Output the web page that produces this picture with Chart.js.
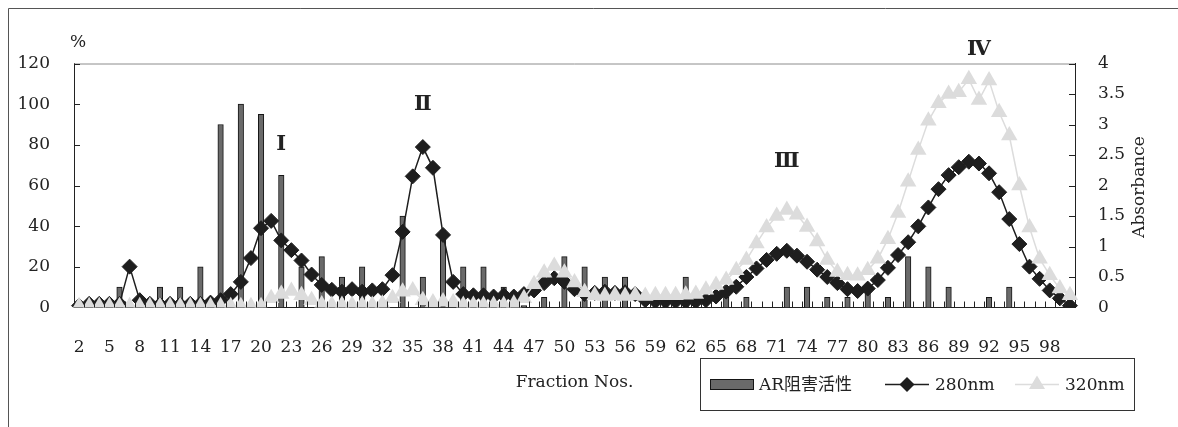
<!DOCTYPE html>
<html>
<head>
<meta charset="utf-8">
<title>Fraction profile</title>
<script src="https://cdn.jsdelivr.net/npm/chart.js@4.4.0/dist/chart.umd.min.js"></script>
<style>
  html, body { margin: 0; padding: 0; background: #fff; }
  #wrap { position: relative; width: 1178px; height: 427px; }
</style>
</head>
<body>
<div id="wrap"><canvas id="fractionChart" width="1178" height="427"></canvas></div>
<script>
// fraction numbers on the x axis
const fractions = [
  "2", "3", "4", "5", "6", "7", "8", "9", "10", "11",
  "12", "13", "14", "15", "16", "17", "18", "19", "20", "21",
  "22", "23", "24", "25", "26", "27", "28", "29", "30", "31",
  "32", "33", "34", "35", "36", "37", "38", "39", "40", "41",
  "42", "43", "44", "45", "46", "47", "48", "49", "50", "51",
  "52", "53", "54", "55", "56", "57", "58", "59", "60", "61",
  "62", "63", "64", "65", "66", "67", "68", "69", "70", "71",
  "72", "73", "74", "75", "76", "77", "78", "79", "80", "81",
  "82", "83", "84", "85", "86", "87", "88", "89", "90", "91",
  "92", "93", "94", "95", "96", "97", "98", "99", "100"
];

// AR inhibition (%), left axis
const arInhibition = [
  null, null, null, null, 10, null, null, null, 10, null,
  10, null, 20, null, 90, null, 100, null, 95, null,
  65, null, 20, null, 25, null, 15, null, 20, null,
  null, null, 45, null, 15, null, 38, null, 20, null,
  20, null, 10, null, 1, null, 5, null, 25, null,
  20, null, 15, null, 15, null, null, null, 1, null,
  15, null, null, null, 5, null, 5, null, null, null,
  10, null, 10, null, 5, null, 5, null, 8, null,
  5, null, 25, null, 20, null, 10, null, null, null,
  5, null, 10, null, null, null, null, null, null
];

// absorbance at 280 nm, right axis
const abs280 = [
  0.03, 0.06, 0.06, 0.06, 0.06, 0.67, 0.12, 0.06, 0.05, 0.06,
  0.05, 0.06, 0.06, 0.08, 0.12, 0.22, 0.42, 0.81, 1.30, 1.42,
  1.10, 0.94, 0.77, 0.54, 0.37, 0.29, 0.26, 0.30, 0.26, 0.28,
  0.30, 0.53, 1.24, 2.15, 2.63, 2.29, 1.19, 0.42, 0.22, 0.20,
  0.20, 0.18, 0.20, 0.18, 0.22, 0.28, 0.40, 0.48, 0.42, 0.30,
  0.22, 0.24, 0.26, 0.24, 0.25, 0.22, 0.12, 0.10, 0.10, 0.10,
  0.10, 0.10, 0.12, 0.18, 0.26, 0.34, 0.50, 0.64, 0.78, 0.88,
  0.93, 0.85, 0.75, 0.62, 0.50, 0.40, 0.30, 0.27, 0.31, 0.45,
  0.65, 0.86, 1.07, 1.33, 1.64, 1.94, 2.17, 2.30, 2.39, 2.36,
  2.20, 1.89, 1.45, 1.04, 0.67, 0.47, 0.28, 0.15, 0.03
];

// absorbance at 320 nm, right axis
const abs320 = [
  0.02, 0.02, 0.02, 0.02, 0.02, 0.02, 0.02, 0.02, 0.02, 0.02,
  0.02, 0.02, 0.02, 0.02, 0.02, 0.02, 0.02, 0.02, 0.02, 0.15,
  0.22, 0.27, 0.20, 0.12, 0.05, 0.04, 0.04, 0.04, 0.04, 0.04,
  0.06, 0.15, 0.26, 0.28, 0.12, 0.08, 0.10, 0.08, 0.04, 0.04,
  0.04, 0.04, 0.04, 0.06, 0.15, 0.38, 0.57, 0.68, 0.57, 0.41,
  0.25, 0.20, 0.19, 0.20, 0.19, 0.20, 0.19, 0.20, 0.20, 0.20,
  0.21, 0.22, 0.29, 0.37, 0.45, 0.61, 0.78, 1.05, 1.31, 1.50,
  1.60, 1.52, 1.32, 1.08, 0.78, 0.58, 0.53, 0.52, 0.61, 0.80,
  1.12, 1.55, 2.06, 2.58, 3.06, 3.35, 3.50, 3.53, 3.74, 3.40,
  3.72, 3.20, 2.82, 2.00, 1.31, 0.80, 0.53, 0.31, 0.20
];

// peak numerals: fraction and height on the % axis
const peakNames = ["Ⅰ", "Ⅱ", "Ⅲ", "Ⅳ"];
const peakFractions = ["22", "36", "72", "91"];
const peakHeights = [80, 100, 72, 127];

const serif = "'DejaVu Serif', 'Noto Sans CJK JP', serif";
const barFill = "#6a6a6a";
const barEdge = "#151515";
const darkLine = "#1e1e1e";
const lightLine = "#dcdcdc";

// frame, inward tick marks, axis captions, numerals and the boxed legend
const decorations = {
  id: "decorations",
  afterDraw(chart) {
    const { ctx, chartArea: area, scales } = chart;
    const x = scales.x;
    const yPct = scales.yPct;
    const yAbs = scales.yAbs;
    ctx.save();

    // outer frame
    ctx.strokeStyle = "#555";
    ctx.lineWidth = 1;
    ctx.beginPath();
    ctx.moveTo(8.5, 427);
    ctx.lineTo(8.5, 8.5);
    ctx.lineTo(1178, 8.5);
    ctx.stroke();

    // plot top edge
    ctx.strokeStyle = "#8c8c8c";
    ctx.beginPath();
    ctx.moveTo(area.left, area.top + 0.5);
    ctx.lineTo(area.right, area.top + 0.5);
    ctx.stroke();

    // tick marks pointing into the plot
    ctx.strokeStyle = "#222";
    ctx.beginPath();
    for (let v = 20; v <= 120; v += 20) {
      const py = Math.round(yPct.getPixelForValue(v)) + 0.5;
      ctx.moveTo(area.left, py);
      ctx.lineTo(area.left + 6, py);
    }
    for (let v = 0.5; v <= 4; v += 0.5) {
      const py = Math.round(yAbs.getPixelForValue(v)) + 0.5;
      ctx.moveTo(area.right, py);
      ctx.lineTo(area.right - 6, py);
    }
    for (let i = 1; i < fractions.length; i++) {
      const px = Math.round(x.getPixelForValue(i - 0.5)) + 0.5;
      ctx.moveTo(px, area.bottom);
      ctx.lineTo(px, area.bottom - 6);
    }
    ctx.stroke();

    // axis captions
    ctx.fillStyle = "#222";
    ctx.font = "17px " + serif;
    ctx.textAlign = "center";
    ctx.textBaseline = "middle";
    ctx.fillText("%", 78, 43);

    ctx.save();
    ctx.translate(1140, 187);
    ctx.rotate(-Math.PI / 2);
    ctx.fillText("Absorbance", 0, 0);
    ctx.restore();

    // peak numerals
    ctx.font = "bold 21px " + serif;
    peakNames.forEach((name, i) => {
      const px = x.getPixelForValue(fractions.indexOf(peakFractions[i]));
      const py = yPct.getPixelForValue(peakHeights[i]);
      ctx.fillText(name, px, py);
    });

    // legend
    const box = { left: 700.5, top: 358.5, width: 434, height: 52 };
    const midY = box.top + box.height / 2;
    ctx.strokeStyle = "#333";
    ctx.strokeRect(box.left, box.top, box.width, box.height);

    ctx.font = "17px " + serif;
    ctx.textAlign = "left";

    ctx.fillStyle = barFill;
    ctx.fillRect(710.5, midY - 5, 43, 10);
    ctx.strokeStyle = barEdge;
    ctx.strokeRect(710.5, midY - 5, 43, 10);
    ctx.fillStyle = "#222";
    ctx.fillText("AR阻害活性", 759, midY + 1);

    ctx.strokeStyle = darkLine;
    ctx.lineWidth = 1.5;
    ctx.beginPath();
    ctx.moveTo(885, midY);
    ctx.lineTo(929, midY);
    ctx.stroke();
    ctx.fillStyle = darkLine;
    ctx.beginPath();
    ctx.moveTo(907, midY - 7.5);
    ctx.lineTo(914.5, midY);
    ctx.lineTo(907, midY + 7.5);
    ctx.lineTo(899.5, midY);
    ctx.closePath();
    ctx.fill();
    ctx.fillStyle = "#222";
    ctx.fillText("280nm", 935, midY + 1);

    ctx.strokeStyle = lightLine;
    ctx.beginPath();
    ctx.moveTo(1015, midY);
    ctx.lineTo(1059, midY);
    ctx.stroke();
    ctx.fillStyle = lightLine;
    ctx.beginPath();
    ctx.moveTo(1037, midY - 9);
    ctx.lineTo(1045, midY + 4.5);
    ctx.lineTo(1029, midY + 4.5);
    ctx.closePath();
    ctx.fill();
    ctx.fillStyle = "#222";
    ctx.fillText("320nm", 1065, midY + 1);

    ctx.restore();
  }
};

const tickFont = { family: serif, size: 17 };

new Chart(document.getElementById("fractionChart"), {
  type: "bar",
  data: {
    labels: fractions,
    datasets: [
      {
        type: "line",
        label: "320nm",
        data: abs320,
        yAxisID: "yAbs",
        order: 1,
        borderColor: lightLine,
        borderWidth: 1.5,
        pointStyle: "triangle",
        pointRadius: 9.5,
        pointBackgroundColor: lightLine,
        pointBorderColor: lightLine,
        pointBorderWidth: 0
      },
      {
        type: "line",
        label: "280nm",
        data: abs280,
        yAxisID: "yAbs",
        order: 2,
        borderColor: darkLine,
        borderWidth: 1.5,
        pointStyle: "rectRot",
        pointRadius: 7.5,
        pointBackgroundColor: darkLine,
        pointBorderColor: darkLine,
        pointBorderWidth: 1
      },
      {
        type: "bar",
        label: "AR阻害活性",
        data: arInhibition,
        yAxisID: "yPct",
        order: 3,
        backgroundColor: barFill,
        borderColor: barEdge,
        borderWidth: 1,
        barThickness: 5.5
      }
    ]
  },
  options: {
    responsive: false,
    animation: false,
    layout: { padding: { top: 63.5, left: 0, right: 0, bottom: 0 } },
    plugins: {
      legend: { display: false },
      tooltip: { enabled: false }
    },
    scales: {
      x: {
        grid: { display: false },
        border: { color: "#222", width: 1 },
        ticks: {
          autoSkip: false,
          maxRotation: 0,
          padding: 22,
          color: "#222",
          font: tickFont,
          callback(value, index) {
            return index % 3 === 0 ? this.getLabelForValue(value) : "";
          }
        },
        title: {
          display: true,
          text: "Fraction Nos.",
          color: "#222",
          font: { family: serif, size: 17 },
          padding: { top: 0, bottom: 34 }
        },
        afterFit(scale) { scale.height = 119.5; }
      },
      yPct: {
        position: "left",
        min: 0,
        max: 120,
        grid: { display: false },
        border: { color: "#222", width: 1 },
        ticks: { stepSize: 20, padding: 16, color: "#222", font: tickFont },
        afterFit(scale) { scale.width = 74; }
      },
      yAbs: {
        position: "right",
        min: 0,
        max: 4,
        grid: { display: false },
        border: { color: "#222", width: 1 },
        ticks: {
          stepSize: 0.5,
          padding: 15,
          color: "#222",
          font: tickFont,
          callback: (value) => String(value)
        },
        afterFit(scale) { scale.width = 103; }
      }
    }
  },
  plugins: [decorations]
});
</script>
</body>
</html>
